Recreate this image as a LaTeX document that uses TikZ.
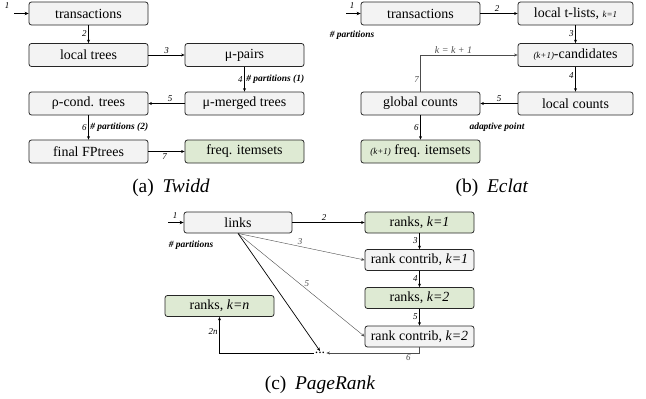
\documentclass[tikz,border=0pt]{standalone}
\usepackage{fontspec}
\setmainfont{Liberation Serif}
\usetikzlibrary{arrows.meta}
\definecolor{boxgray}{RGB}{243,243,243}
\definecolor{boxgreen}{RGB}{222,234,211}
\tikzset{
  box/.style={draw=black!85, line width=0.8pt, rounded corners=2.5pt, fill=boxgray,
    minimum height=23bp, inner sep=1pt, font=\fontsize{14}{16}\selectfont},
  gbox/.style={box, fill=boxgreen},
  arr/.style={-{Stealth[length=3.5pt,width=3pt]}, line width=0.7pt, black},
  tarr/.style={-{Stealth[length=3.5pt,width=3pt]}, line width=0.4pt, black!70},
  inarr/.style={-{Stealth[length=4pt,width=3.5pt]}, line width=1.1pt, black},
  lab/.style={font=\fontsize{9}{10}\selectfont\itshape, inner sep=1.5pt},
  blab/.style={font=\fontsize{9.5}{11}\selectfont\bfseries\itshape, inner sep=1.5pt},
  captext/.style={font=\fontsize{19.5}{22}\selectfont}
}
\newcommand{\smk}[1]{{\fontsize{9}{10}\selectfont\itshape #1}}
\begin{document}
\begin{tikzpicture}[x=1bp,y=-1bp]
\useasboundingbox (0,0) rectangle (646,398);
% ---------- (a) Twidd ----------
\node[box, minimum width=119bp] (ta) at (88.5,13.5) {transactions};
\node[box, minimum width=119bp] (lt) at (88.5,55) {local trees};
\node[box, minimum width=119bp] (mp) at (244.5,55) {μ-pairs};
\node[box, minimum width=119bp] (mm) at (244.5,103.5) {μ-merged trees};
\node[box, minimum width=119bp] (rc) at (88.5,103.5) {ρ-cond. trees};
\node[box, minimum width=119bp] (ff) at (88.5,151.5) {final FPtrees};
\node[gbox, minimum width=119bp] (fi) at (244.5,151.5) {freq. itemsets};
\coordinate (ain) at (14,13.5);
\draw[inarr] (ain) -- (ta.west);
\node[lab] at (7,6) {1};
\draw[arr] (ta) -- node[lab, left, pos=0.45] {2} (lt);
\draw[arr] (lt) -- node[lab, above, pos=0.5] {3} (mp);
\draw[arr] (mp) -- node[lab, left, pos=0.5] {4} node[blab, right, pos=0.5] {\# partitions (1)} (mm);
\draw[arr] (mm) -- node[lab, above, pos=0.4] {5} (rc);
\draw[arr] (rc) -- node[lab, left, pos=0.5] {6} node[blab, right, pos=0.5] {\# partitions (2)} (ff);
\draw[arr] (ff) -- node[lab, below, pos=0.45] {7} (fi);
\node[captext] (capa) at (171,188) {(a)\hspace{0.45em}\textit{Twidd}};
% ---------- (b) Eclat ----------
\node[box, minimum width=119bp] (tb) at (420.5,13.5) {transactions};
\node[box, minimum width=115bp] (tl) at (575.5,13.5) {local t-lists, \smk{k=1}};
\node[box, minimum width=115bp] (cd) at (575.5,55) {\smk{(k+1)}-candidates};
\node[box, minimum width=115bp] (lc) at (575.5,103.5) {local counts};
\node[box, minimum width=119bp] (gc) at (420.5,103.5) {global counts};
\node[gbox, minimum width=119bp] (bf) at (420.5,151.5) {\smk{(k+1)} freq. itemsets};
\coordinate (bin) at (346,13.5);
\draw[inarr] (bin) -- (tb.west);
\node[lab] at (352,6) {1};
\node[blab] at (352,35) {\# partitions};
\draw[arr] (tb) -- node[lab, above, pos=0.45] {2} (tl);
\draw[arr] (tl) -- node[lab, left, pos=0.45] {3} (cd);
\draw[arr] (cd) -- node[lab, left, pos=0.35] {4} (lc);
\draw[arr] (lc) -- node[lab, above, pos=0.5] {5} (gc);
\draw[tarr] (gc.north) |- node[lab, left, pos=0.17] {7} node[lab, above, pos=0.67, font=\fontsize{10}{11}\selectfont\itshape] {k = k + 1} (cd.west);
\draw[arr] (gc) -- node[lab, left, pos=0.5] {6} (bf);
\node[blab] at (497,127) {adaptive point};
\node[captext] (capb) at (492,188) {(b)\hspace{0.45em}\textit{Eclat}};
% ---------- (c) PageRank ----------
\tikzset{pbox/.style={box, minimum height=21bp, minimum width=109bp}}
\node[pbox, minimum width=108bp] (li) at (238,222.5) {links};
\node[pbox, fill=boxgreen] (r1) at (419.5,222.5) {ranks, \textit{k=1}};
\node[pbox] (c1) at (419.5,260) {rank contrib, \textit{k=1}};
\node[pbox, fill=boxgreen] (r2) at (419.5,298) {ranks, \textit{k=2}};
\node[pbox] (c2) at (419.5,336.5) {rank contrib, \textit{k=2}};
\node[pbox, fill=boxgreen] (rn) at (219.5,306) {ranks, \textit{k=n}};
\node[inner sep=1pt, font=\fontsize{14}{16}\selectfont] (dt) at (320,353) {...};
\coordinate (cin) at (168,222.5);
\draw[inarr] (cin) -- (li.west);
\node[lab] at (175,216) {1};
\node[blab] at (191,245) {\# partitions};
\draw[arr] (li) -- node[lab, above, pos=0.44] {2} (r1);
\draw[arr] (r1) -- node[lab, left, pos=0.45] {3} (c1);
\draw[arr] (c1) -- node[lab, left, pos=0.45] {4} (r2);
\draw[arr] (r2) -- node[lab, left, pos=0.45] {5} (c2);
\draw[tarr] (li.south) -- node[lab, above, pos=0.49] {3} (c1.west);
\draw[tarr] (li.south) -- node[lab, above right, pos=0.52, inner sep=0.5pt] {5} (c2.west);
\draw[arr] (li.south) -- (dt.north);
\draw[tarr] (c2.south) |- node[lab, below, pos=0.56] {6} (dt.east);
\draw[arr, line width=0.6pt] (dt.west) -| node[lab, left, pos=0.8] {2n} (rn.south);
\node[captext] (capc) at (320,385) {(c)\hspace{0.45em}\textit{PageRank}};
\end{tikzpicture}
\end{document}
